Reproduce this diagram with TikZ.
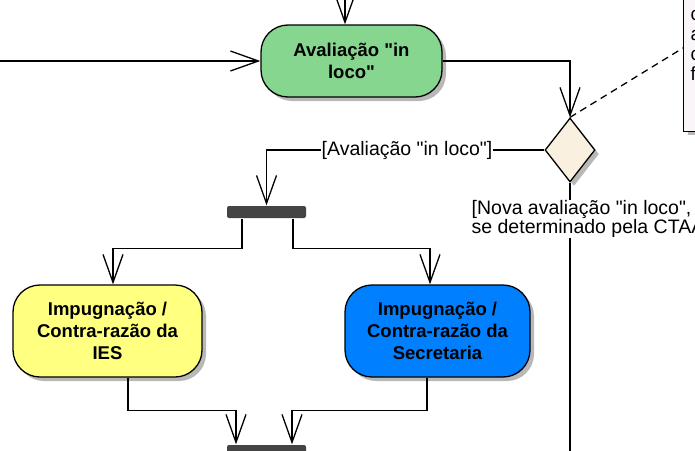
\documentclass[tikz,border=0pt]{standalone}
\usepackage{fontspec}
\newfontfamily\lsans{Liberation Sans}
\usetikzlibrary{arrows.meta,shapes.geometric,shadows}

\definecolor{avgreen}{RGB}{134,214,144}
\definecolor{iesyellow}{RGB}{255,255,128}
\definecolor{secblue}{RGB}{0,128,255}
\definecolor{decfill}{RGB}{250,240,224}
\definecolor{notefill}{RGB}{249,245,249}
\definecolor{bargray}{RGB}{68,68,68}

\begin{document}
\begin{tikzpicture}[x=1pt,y=-1pt,line width=1.3pt,
  >={Straight Barb[length=28pt,width=20pt]},
  shade/.style={drop shadow={shadow xshift=4pt,shadow yshift=-4pt,fill=black!28,opacity=1}},
  act/.style={draw,shade,rounded corners=27pt,align=center,inner sep=0pt,
    font=\lsans\bfseries\fontsize{18.5}{22}\selectfont},
  bar/.style={fill=bargray,rounded corners=2pt,inner sep=0pt,minimum width=79pt,minimum height=12pt},
  lbl/.style={fill=white,inner sep=1pt,align=left,font=\lsans\fontsize{19.5}{18.5}\selectfont},
  flow/.style={draw,->}]
\useasboundingbox (0,0) rectangle (695,450);

% nodes
\node[act,fill=avgreen,minimum width=181pt,minimum height=72pt] (aval) at (351.5,61) {Avaliação "in\\loco"};
\node[draw,shade,diamond,fill=decfill,minimum width=50pt,minimum height=64pt,inner sep=0pt] (dec) at (570,150) {};
\node[draw,shade,fill=notefill,minimum width=90pt,minimum height=150pt,inner sep=0pt,anchor=south west] (note) at (683,132) {};
\foreach \ch/\yy in {c/20,a/40,c/60,f/80}
  \node[anchor=base west,inner sep=0pt,font=\lsans\fontsize{19}{18}\selectfont] (nt\yy) at (690,\yy) {\ch};
\node[bar] (fork) at (266.5,212) {};
\node[act,fill=iesyellow,minimum width=189pt,minimum height=92pt] (ies) at (107.5,331) {Impugnação /\\Contra-razão da\\IES};
\node[act,fill=secblue,minimum width=185pt,minimum height=92pt] (sec) at (437.5,331) {Impugnação /\\Contra-razão da\\Secretaria};
\node[bar] (join) at (266.5,451) {};

\coordinate (inL) at (-5,61);
\coordinate (inT) at (345,-5);
\coordinate (outB) at (570,460);
\coordinate (noteA) at (683,48);

% connectors
\path[flow] (inL) -- (aval.west);
\path[flow] (inT) -- (inT |- aval.north);
\path[flow] (aval.east) -| (dec.north);
\path[draw,dashed,dash pattern=on 7pt off 5pt] (dec.north) -- (noteA);
\path[flow] (dec.west) -| (fork.north);
\path[draw] (dec.south) -- (outB);
\path[flow] ([xshift=-24.5pt]fork.south) -- ++(0,30) -| ([xshift=5.5pt]ies.north);
\path[flow] ([xshift=26.5pt]fork.south) -- ++(0,30) -| ([xshift=-7.5pt]sec.north);
\path[flow] ([xshift=20.5pt]ies.south) -- ++(0,33) -| ([xshift=-30.5pt]join.north);
\path[flow] ([xshift=-10.5pt]sec.south) -- ++(0,33) -| ([xshift=25.5pt]join.north);

% guard labels
\node[lbl] (gA) at (407,150) {[Avaliação "in loco"]};
\node[lbl,anchor=west] (gB) at (470,219) {[Nova avaliação "in loco",\\se determinado pela CTAA};
\end{tikzpicture}
\end{document}
